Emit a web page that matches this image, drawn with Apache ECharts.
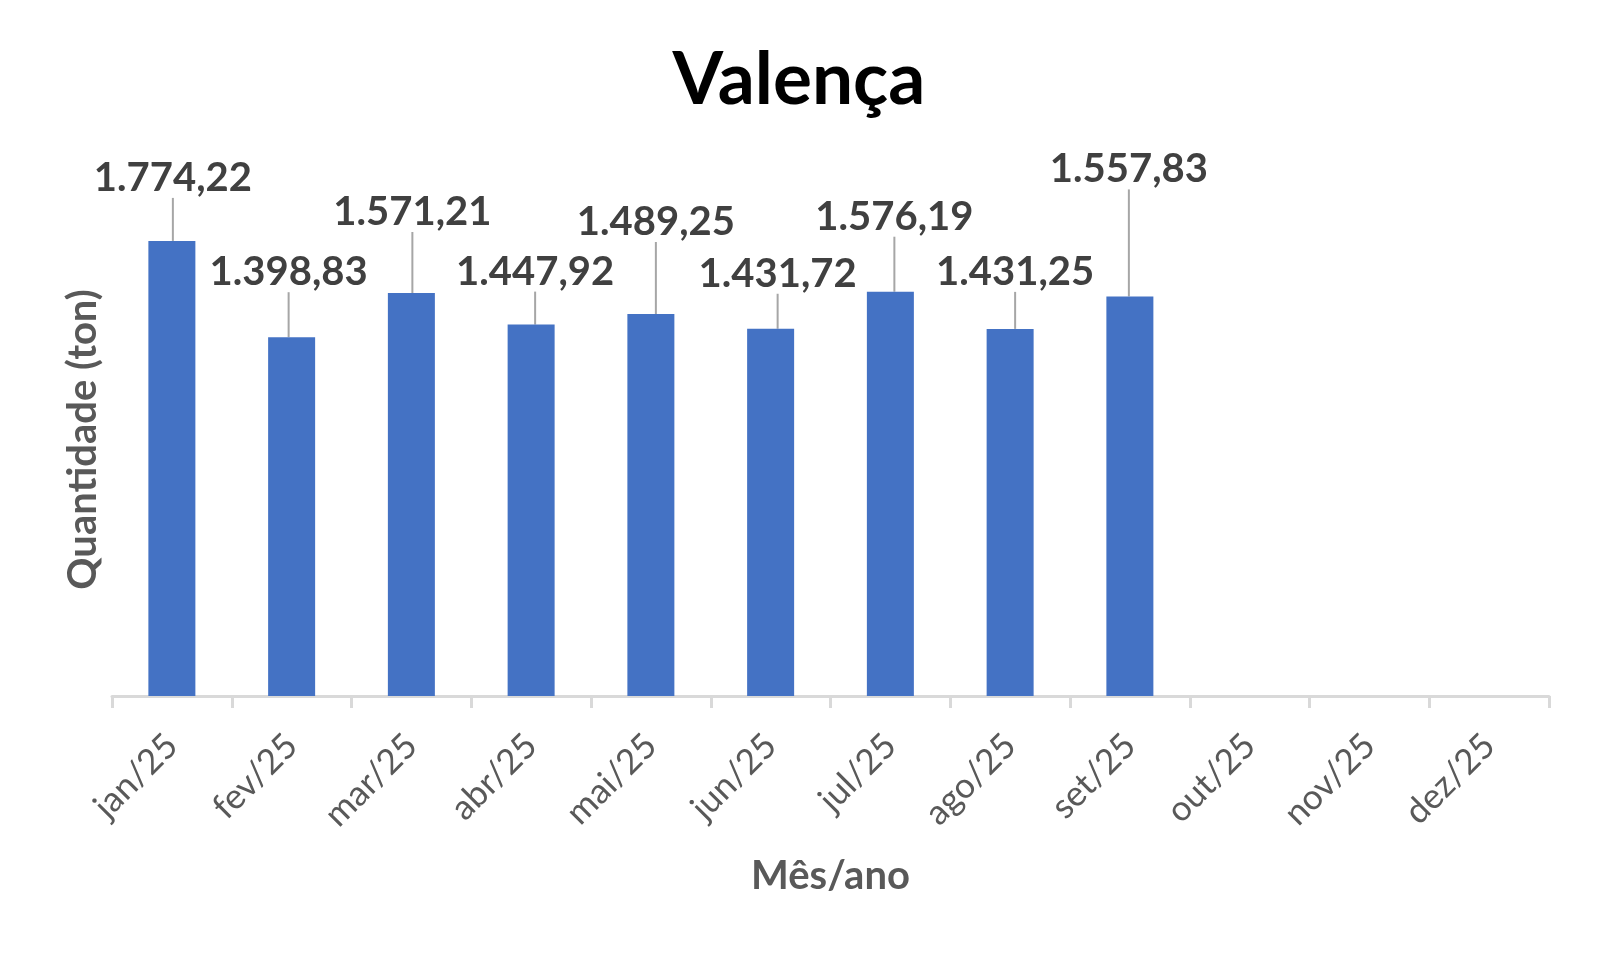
<!DOCTYPE html>
<html>
<head>
<meta charset="utf-8">
<title>Valença</title>
<script src="https://cdn.jsdelivr.net/npm/echarts@6/dist/echarts.min.js"></script>
<style>
  html, body { margin: 0; padding: 0; background: #fff; }
  #chart { width: 1598px; height: 958px; }
</style>
</head>
<body>
<div id="chart"></div>
<script>
  // dados
  let meses = ['jan/25', 'fev/25', 'mar/25', 'abr/25', 'mai/25', 'jun/25',
    'jul/25', 'ago/25', 'set/25', 'out/25', 'nov/25', 'dez/25'];
  let quantidade = [1774.22, 1398.83, 1571.21, 1447.92, 1489.25, 1431.72,
    1576.19, 1431.25, 1557.83, null, null, null];

  // deslocamento dos rótulos (px), como no gráfico original
  let rotuloDx = [1, -3, 1, 4, 5, 7, 4, 5, -1];
  let rotuloDy = [-38, -40, -56, -28, -67, -30, -50, -32, -102];

  let fonte = 'Lato, "Open Sans", sans-serif';

  function formatBR(v) {
    let p = v.toFixed(2).split('.');
    return p[0].replace(/\B(?=(\d{3})+(?!\d))/g, '.') + ',' + p[1];
  }

  let chart = echarts.init(document.getElementById('chart'));
  chart.setOption({
    animation: false,
    title: {
      text: 'Valença',
      left: 'center',
      top: 39,
      textStyle: {
        color: '#000',
        fontFamily: fonte,
        fontWeight: 'bold',
        fontSize: 73
      }
    },
    grid: {
      left: 112,
      right: 49,
      top: 183,
      bottom: 262
    },
    xAxis: {
      type: 'category',
      data: meses,
      name: 'Mês/ano',
      nameLocation: 'middle',
      nameGap: 160,
      nameTextStyle: {
        color: '#595959',
        fontFamily: fonte,
        fontWeight: 'bold',
        fontSize: 40
      },
      axisLine: {
        lineStyle: { color: '#d9d9d9', width: 3 }
      },
      axisTick: {
        show: true,
        length: 12,
        lineStyle: { color: '#d9d9d9', width: 3 }
      },
      axisLabel: {
        rotate: 45,
        margin: 44,
        interval: 0,
        color: '#595959',
        fontFamily: fonte,
        fontSize: 35
      }
    },
    yAxis: {
      type: 'value',
      min: 0,
      max: 2000,
      name: 'Quantidade (ton)',
      nameLocation: 'middle',
      nameGap: 9,
      nameTextStyle: {
        color: '#595959',
        fontFamily: fonte,
        fontWeight: 'bold',
        fontSize: 40
      },
      axisLine: { show: false },
      axisTick: { show: false },
      axisLabel: { show: false },
      splitLine: { show: false }
    },
    series: [{
      type: 'bar',
      data: quantidade,
      barWidth: 47,
      itemStyle: { color: '#4472C4' },
      label: {
        show: true,
        position: 'top',
        distance: 5,
        color: '#404040',
        fontFamily: fonte,
        fontWeight: 'bold',
        fontSize: 40,
        formatter: function (p) {
          return p.value == null ? '' : formatBR(p.value);
        }
      },
      labelLine: {
        show: true,
        lineStyle: { color: '#a6a6a6', width: 2 }
      },
      labelLayout: function (p) {
        let i = p.dataIndex;
        return {
          dx: rotuloDx[i] || 0,
          dy: rotuloDy[i] || 0
        };
      }
    }]
  });
</script>
</body>
</html>
